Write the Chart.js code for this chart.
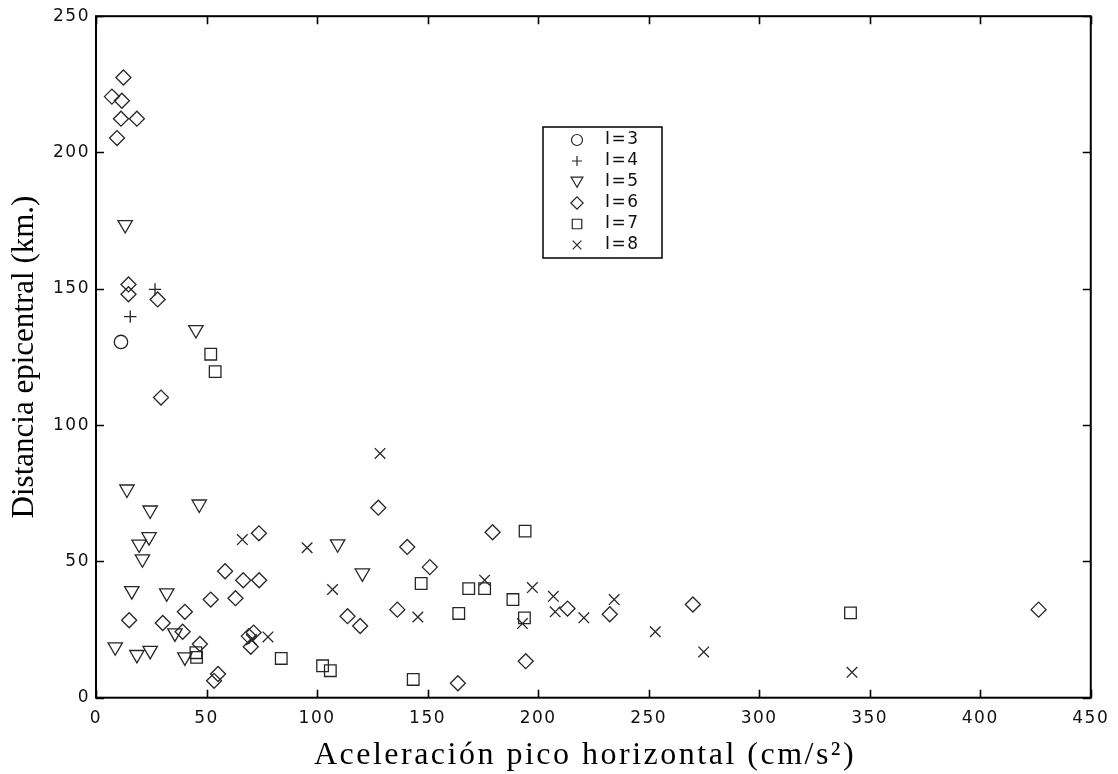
<!DOCTYPE html>
<html>
<head>
<meta charset="utf-8">
<script src="https://cdn.jsdelivr.net/npm/chart.js@4/dist/chart.umd.min.js"></script>
<style>
html,body{margin:0;padding:0;background:#ffffff;}
#wrap{width:1118px;height:774px;}
</style>
</head>
<body>
<div id="wrap"><canvas id="c" width="1118" height="774"></canvas></div>
<script>
// ---- data ----
const seriesLabels = ["I=3", "I=4", "I=5", "I=6", "I=7", "I=8"];
const xTicks = [0, 50, 100, 150, 200, 250, 300, 350, 400, 450];
const yTicks = [0, 50, 100, 150, 200, 250];
const xTitle = "Aceleración pico horizontal (cm/s²)";
const yTitle = "Distancia epicentral (km.)";

const i3X = [11.3];
const i3Y = [130.5];

const i4X = [15.5, 26.7];
const i4Y = [139.8, 149.8];

const i5X = [13.2, 45.2, 14.0, 24.5, 46.7, 24.0, 19.5, 21.0, 16.2, 32.0, 35.7, 8.7, 18.5, 24.5, 40.2, 109.3, 120.5];
const i5Y = [173.5, 135.0, 76.5, 68.8, 71.0, 59.0, 56.3, 50.9, 39.2, 38.4, 23.7, 18.6, 15.8, 17.3, 14.9, 56.4, 45.7];

const i6X = [12.4, 7.2, 11.7, 11.3, 18.5, 9.5, 14.7, 14.7, 27.9, 29.4,
             73.7, 58.4, 66.6, 73.8, 51.9, 63.1, 40.2, 15.0, 30.2, 39.2,
             69.1, 71.3, 70.0, 47.0, 55.2, 53.4,
             127.7, 140.8, 151.0, 136.3, 113.8, 119.5,
             179.4, 213.3, 232.4, 194.4, 163.7, 270.0, 426.4];
const i6Y = [227.5, 220.5, 219.0, 212.4, 212.4, 205.3, 151.6, 148.0, 146.1, 110.1,
             60.3, 46.4, 43.1, 43.1, 36.0, 36.5, 31.5, 28.4, 27.4, 24.2,
             22.6, 23.9, 18.7, 19.7, 8.7, 6.2,
             69.7, 55.3, 47.9, 32.3, 29.9, 26.3,
             60.7, 32.7, 30.6, 13.4, 5.3, 34.2, 32.3];

const i7X = [51.9, 53.9, 45.2, 45.5, 83.8, 102.5, 106.0, 143.5, 147.1, 194.1, 168.6, 175.8, 188.6, 164.1, 193.8, 341.3];
const i7Y = [126.0, 119.6, 16.5, 14.8, 14.4, 11.7, 9.9, 6.7, 41.9, 61.1, 40.0, 40.0, 36.0, 30.9, 29.3, 31.1];

const i8X = [66.2, 77.8, 70.3, 95.5, 128.5, 107.0, 145.6, 175.8, 197.4, 206.9, 207.7, 220.7, 234.4, 192.9, 253.0, 274.9, 342.0];
const i8Y = [58.0, 22.3, 21.3, 55.0, 89.6, 39.7, 29.6, 43.1, 40.4, 37.2, 31.5, 29.3, 36.0, 27.2, 24.2, 16.8, 9.3];

// ---- styling ----
const INK = '#262626';
const markerStyles = [
  {pointStyle: 'circle',   radius: 6.7, rotation: 0},
  {pointStyle: 'cross',    radius: 6.2, rotation: 0},
  {pointStyle: 'triangle', radius: 8.3, rotation: 180},
  {pointStyle: 'rectRot',  radius: 7.5, rotation: 0},
  {pointStyle: 'rect',     radius: 8.2, rotation: 0},
  {pointStyle: 'crossRot', radius: 7.5, rotation: 0}
];
const xs = [i3X, i4X, i5X, i6X, i7X, i8X];
const ys = [i3Y, i4Y, i5Y, i6Y, i7Y, i8Y];

function toPoints(xa, ya) { return xa.map((v, k) => ({x: v, y: ya[k]})); }

const datasets = seriesLabels.map((lab, k) => ({
  label: lab,
  data: toPoints(xs[k], ys[k]),
  pointStyle: markerStyles[k].pointStyle,
  pointRadius: markerStyles[k].radius,
  pointHoverRadius: markerStyles[k].radius,
  pointRotation: markerStyles[k].rotation,
  pointBorderColor: INK,
  pointBackgroundColor: 'rgba(0,0,0,0)',
  pointBorderWidth: 1.3,
  showLine: false,
  clip: false
}));

const SANS = '"DejaVu Sans", "Liberation Sans", Arial, sans-serif';
const TICK_SIZE = 17;
const TICK_FONT = TICK_SIZE + 'px ' + SANS;

const framePlugin = {
  id: 'frame',
  beforeDraw(chart) {
    const ctx = chart.ctx;
    ctx.save();
    ctx.fillStyle = '#ffffff';
    ctx.fillRect(0, 0, chart.width, chart.height);
    ctx.restore();
    ctx.letterSpacing = '1.5px';
  },
  afterDraw(chart) {
    const ctx = chart.ctx;
    const a = chart.chartArea;
    const xs_ = chart.scales.x, ys_ = chart.scales.y;
    ctx.save();
    ctx.letterSpacing = '0px';
    ctx.strokeStyle = '#000';
    ctx.lineWidth = 1.6;
    // inward ticks on all four sides
    const TL = 8;
    ctx.beginPath();
    xTicks.forEach(v => {
      const p = Math.round(xs_.getPixelForValue(v)) + 0.5;
      ctx.moveTo(p, a.bottom); ctx.lineTo(p, a.bottom - TL);
      ctx.moveTo(p, a.top); ctx.lineTo(p, a.top + TL);
    });
    yTicks.forEach(v => {
      const p = Math.round(ys_.getPixelForValue(v)) + 0.5;
      ctx.moveTo(a.left, p); ctx.lineTo(a.left + TL, p);
      ctx.moveTo(a.right, p); ctx.lineTo(a.right - TL, p);
    });
    ctx.stroke();
    ctx.lineWidth = 2;
    ctx.strokeRect(a.left, a.top, a.right - a.left, a.bottom - a.top);

    // legend box
    const lx = 543, ly = 127, lw = 119, lh = 131;
    ctx.fillStyle = '#ffffff';
    ctx.fillRect(lx, ly, lw, lh);
    ctx.lineWidth = 1.5;
    ctx.strokeStyle = '#000';
    ctx.strokeRect(lx, ly, lw, lh);
    ctx.font = TICK_FONT;
    ctx.letterSpacing = '1.5px';
    ctx.textAlign = 'left';
    ctx.textBaseline = 'middle';
    seriesLabels.forEach((lab, k) => {
      const cy = 140 + k * 21;
      const st = markerStyles[k];
      const opts = {pointStyle: st.pointStyle, radius: st.radius * 0.82, rotation: st.rotation, borderWidth: 1.2};
      ctx.save();
      ctx.strokeStyle = INK;
      ctx.fillStyle = 'rgba(0,0,0,0)';
      ctx.lineWidth = 1.2;
      Chart.helpers.drawPoint(ctx, opts, 577, cy + (st.pointStyle === 'triangle' ? -1.5 : 0));
      ctx.restore();
      ctx.fillStyle = '#111';
      ctx.fillText(lab, 605, cy);
    });

    // axis titles
    ctx.fillStyle = '#000';
    ctx.font = '32px "Liberation Serif", "Times New Roman", serif';
    ctx.letterSpacing = '2.5px';
    ctx.textAlign = 'center';
    ctx.textBaseline = 'alphabetic';
    ctx.fillText(xTitle, 585, 764);

    ctx.letterSpacing = '0px';
    ctx.font = '31px "Liberation Serif", "Times New Roman", serif';
    ctx.translate(33, 357);
    ctx.rotate(-Math.PI / 2);
    ctx.fillText(yTitle, 0, 0);
    ctx.restore();
  }
};

new Chart(document.getElementById('c'), {
  type: 'scatter',
  data: {datasets},
  options: {
    responsive: false,
    animation: false,
    events: [],
    layout: {padding: {left: 0, right: 23, top: 14.5, bottom: 0}},
    plugins: {
      legend: {display: false},
      tooltip: {enabled: false},
      title: {display: false}
    },
    scales: {
      x: {
        type: 'linear', min: 0, max: 450,
        afterFit(s) { s.height = 76.3; },
        afterBuildTicks(s) { s.ticks = xTicks.map(v => ({value: v})); },
        grid: {display: false, drawTicks: false},
        border: {display: false},
        ticks: {
          color: '#111', padding: 11, maxRotation: 0, autoSkip: false,
          font: {family: SANS, size: TICK_SIZE},
          callback: v => String(v)
        }
      },
      y: {
        type: 'linear', min: 0, max: 250,
        afterFit(s) { s.width = 96; },
        afterBuildTicks(s) { s.ticks = yTicks.map(v => ({value: v})); },
        grid: {display: false, drawTicks: false},
        border: {display: false},
        ticks: {
          color: '#111', padding: 6, autoSkip: false,
          font: {family: SANS, size: TICK_SIZE},
          callback: v => String(v)
        }
      }
    }
  },
  plugins: [framePlugin]
});
</script>
</body>
</html>
